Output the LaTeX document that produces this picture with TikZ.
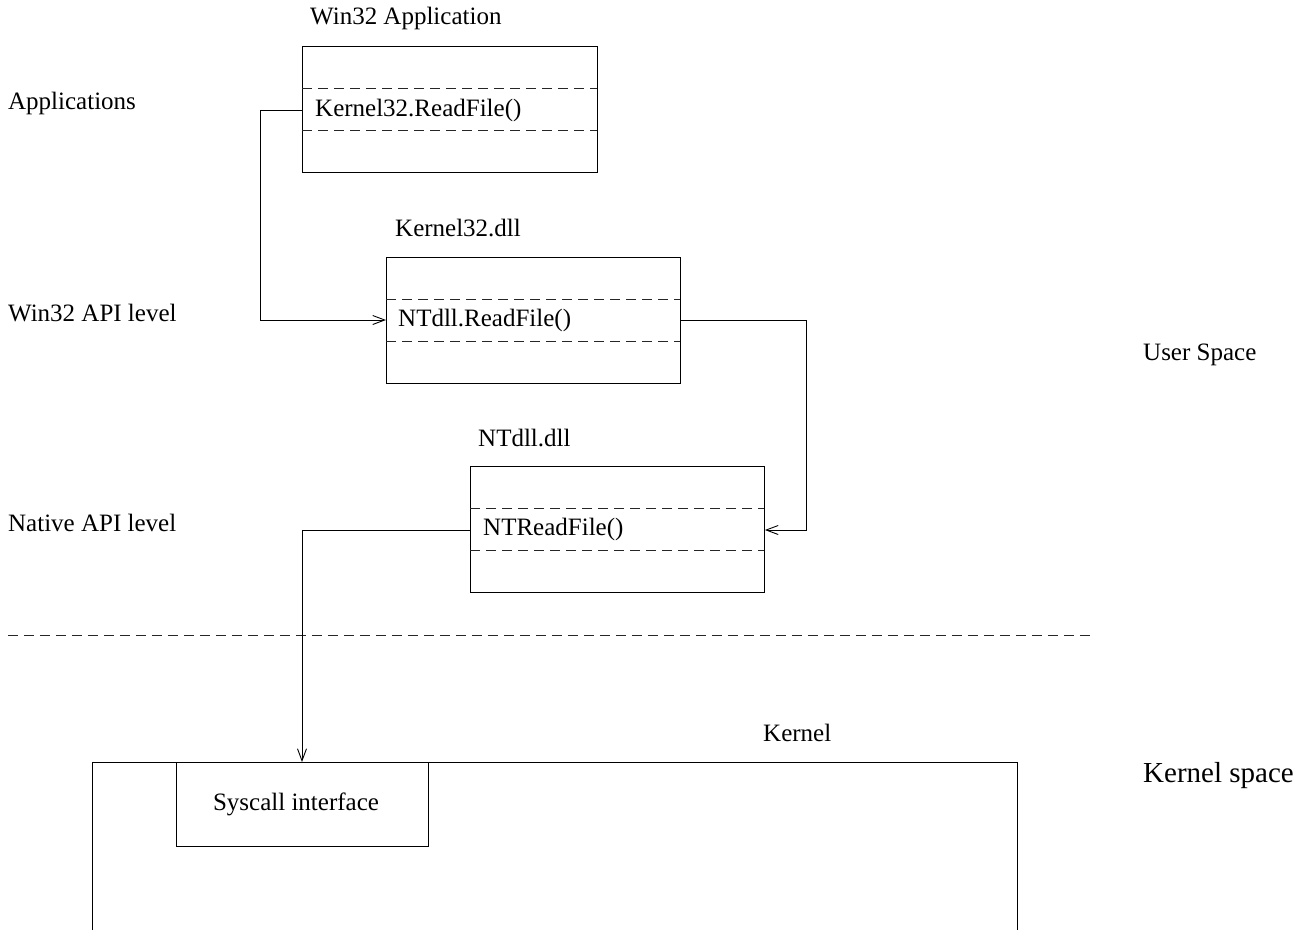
\documentclass[tikz,border=0pt]{standalone}
\usepackage{fontspec}
\setmainfont{Liberation Serif}
\usetikzlibrary{arrows.meta}
\begin{document}
\begin{tikzpicture}[x=1pt,y=-1pt,
  every node/.style={font=\fontsize{25}{30}\selectfont, inner sep=0pt},
  lbl/.style={anchor=west},
  modbox/.style={draw, line width=0.9pt, minimum width=295pt, minimum height=126pt, anchor=north west},
  sep/.style={line width=0.9pt, dash pattern=on 10pt off 6pt, draw=black!85},
  conn/.style={line width=0.9pt, -{Straight Barb[length=12pt,width=9pt,line width=0.9pt]}}]
\useasboundingbox (0,0) rectangle (1311,929);
\clip (0,0) rectangle (1311,929);

% left labels
\node[lbl] (app) at (8,103) {Applications};
\node[lbl] (w32) at (8,313) {Win32 API level};
\node[lbl] (nat) at (8,523) {Native API level};

% box 1
\node[lbl] (t1) at (310,18) {Win32 Application};
\node[modbox] (b1) at (302,46) {};
\draw[sep] (302,88) -- (597,88);
\draw[sep] (302,130) -- (597,130);
\node[lbl] (f1) at (315,110) {Kernel32.ReadFile()};

% box 2
\node[lbl] (t2) at (395,228) {Kernel32.dll};
\node[modbox, minimum width=294pt] (b2) at (386,257) {};
\draw[sep] (386,299) -- (680,299);
\draw[sep] (386,341) -- (680,341);
\node[lbl] (f2) at (398,320) {NTdll.ReadFile()};

% box 3
\node[lbl] (t3) at (478,438) {NTdll.dll};
\node[modbox, minimum width=294pt] (b3) at (470,466) {};
\draw[sep] (470,508) -- (764,508);
\draw[sep] (470,550) -- (764,550);
\node[lbl] (f3) at (483,529) {NTReadFile()};

% separator
\draw[sep] (8,635) -- (1093,635);

% right labels
\node[lbl] (us) at (1143,355) {User Space};
\node[lbl, font=\fontsize{29}{34}\selectfont] (ks) at (1143,776) {Kernel space};

% kernel
\node[lbl] (kl) at (763,733) {Kernel};
\node[draw, line width=0.9pt, minimum width=925pt, minimum height=300pt, anchor=north west] (kern) at (92,762) {};
\node[draw, line width=0.9pt, minimum width=252pt, minimum height=84pt, anchor=north west] (sys) at (176,762) {};
\node (syst) at (296,804) {Syscall interface};

% connectors
\coordinate (c1) at (b1.west |- 0,110);
\coordinate (c2) at (b2.west |- 0,320);
\coordinate (c3) at (b2.east |- 0,320);
\coordinate (c4) at (b3.east |- 0,530);
\coordinate (c5) at (b3.west |- 0,530);
\coordinate (c6) at (302,762);
\draw[conn] (c1) -- (260,110) |- (c2);
\draw[conn] (c3) -- (806,320) |- (c4);
\draw[conn] (c5) -| (c6);
\end{tikzpicture}
\end{document}
